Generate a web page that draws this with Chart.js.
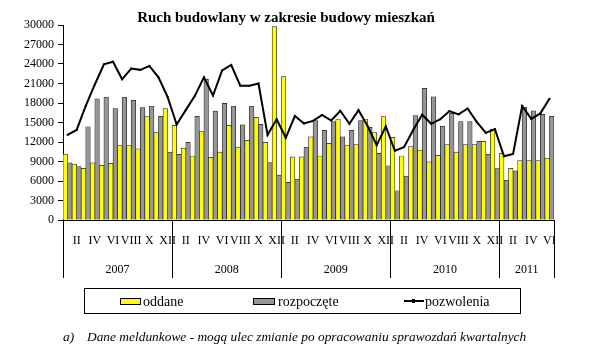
<!DOCTYPE html>
<html>
<head>
<meta charset="utf-8">
<script src="https://cdn.jsdelivr.net/npm/chart.js@4.4.1/dist/chart.umd.min.js"></script>
<style>
  html, body { margin:0; padding:0; background:#fff; }
  body { width:600px; height:356px; overflow:hidden; position:relative; font-family:"Liberation Serif","Times New Roman",serif; color:#000; }
  #c { position:absolute; left:0; top:0; }
  .abs { position:absolute; white-space:nowrap; }
  #title { left:0; width:572px; top:9px; text-align:center; font-weight:bold; font-size:15px; line-height:17px; }
  #legend { left:84px; top:288px; width:437px; height:26px; border:1px solid #000; box-sizing:border-box; }
  .sw { position:absolute; top:298px; height:7px; box-sizing:border-box; border:1px solid #000; }
  .lt { position:absolute; top:293px; font-size:14px; line-height:17px; }
  .foot { position:absolute; top:329px; font-size:13.4px; line-height:15px; font-style:italic; }
</style>
</head>
<body>
<canvas id="c" width="600" height="356"></canvas>
<div id="title" class="abs">Ruch budowlany w zakresie budowy mieszkań</div>
<div id="legend" class="abs"></div>
<div class="sw" style="left:120px;width:21px;background:#ffff00;"></div>
<div class="lt" style="left:143px;">oddane</div>
<div class="sw" style="left:253px;width:22px;background:#969696;"></div>
<div class="lt" style="left:278px;">rozpoczęte</div>
<div class="abs" style="left:404px;top:300px;width:20px;height:2px;background:#000;"></div>
<div class="abs" style="left:412px;top:299px;width:3px;height:4px;background:#000;"></div>
<div class="lt" style="left:425px;">pozwolenia</div>
<div class="foot" style="left:63px;">a)</div>
<div class="foot" style="left:87px;">Dane meldunkowe - mogą ulec zmianie po opracowaniu sprawozdań kwartalnych</div>
<script>
const years = ['2007', '2008', '2009', '2010', '2011'];
const monthNumerals = ['I','II','III','IV','V','VI','VII','VIII','IX','X','XI','XII'];

const oddane = [
  10150, 8600, 7950, 8800, 8400, 8700, 11450, 11450, 10950, 15900, 13450, 17150,
  14550, 11050, 9850, 13600, 9650, 10450, 14550, 11200, 12250, 15800, 11950, 29750,
  22050, 9700, 9700, 12800, 9850, 11800, 15500, 11450, 11600, 15500, 13450, 15900,
  12700, 9850, 11300, 10750, 8950, 9950, 11600, 10450, 11600, 11600, 12100, 13950,
  10250, 7950, 9150, 9150, 9150, 9500
];
const rozpoczete = [
  8800, 8200, 14350, 18650, 18900, 17150, 18900, 18400, 17300, 17500, 15950, 10450,
  10100, 11950, 15950, 21650, 16750, 17950, 17500, 14650, 17500, 14700, 8850, 6900,
  5800, 6300, 11200, 15300, 13800, 15150, 12800, 13800, 15300, 14250, 10250, 8350,
  4500, 6750, 16050, 20250, 18950, 14450, 16400, 15150, 15150, 12100, 10100, 8000,
  6150, 7550, 17350, 16800, 16250, 15950
];
const pozwolenia = [
  13100, 13850, 17550, 20850, 23950, 24350, 21650, 23300, 23100, 23700, 21950, 18950,
  14700, 16900, 19100, 21950, 19150, 23000, 23850, 20650, 20650, 21000, 13100, 15500,
  12650, 16000, 14850, 15250, 16150, 15300, 16800, 14800, 16900, 14450, 11500, 14400,
  10650, 11200, 13800, 16200, 14800, 15500, 16750, 16250, 17150, 15100, 13400, 14000,
  9800, 10150, 17550, 15550, 16400, 18650
];
const yTicks = [0, 3000, 6000, 9000, 12000, 15000, 18000, 21000, 24000, 27000, 30000];

const labels = oddane.map((_, i) => monthNumerals[i % 12] + ' ' + years[Math.floor(i / 12)]);

Chart.defaults.font.family = "'Liberation Serif','Times New Roman',serif";
Chart.defaults.color = '#000';

const yearPlugin = {
  id: 'yearGroups',
  afterDraw(chart) {
    const xs = chart.scales.x, ctx = chart.ctx, area = chart.chartArea;
    const n = labels.length;
    const step = xs.getPixelForValue(1) - xs.getPixelForValue(0);
    ctx.save();
    ctx.strokeStyle = '#000';
    ctx.lineWidth = 1;
    ctx.fillStyle = '#000';
    ctx.font = "12px 'Liberation Serif','Times New Roman',serif";
    ctx.textAlign = 'center';
    ctx.textBaseline = 'middle';
    let start = 0;
    years.forEach((yr, k) => {
      const cnt = Math.min(12, n - start);
      const left = xs.getPixelForValue(start) - step / 2;
      const right = xs.getPixelForValue(start + cnt - 1) + step / 2;
      const edges = k === years.length - 1 ? [left, right] : [left];
      edges.forEach(e => {
        const px = Math.round(e) + 0.5;
        ctx.beginPath();
        ctx.moveTo(px, area.bottom);
        ctx.lineTo(px, area.bottom + 58);
        ctx.stroke();
      });
      ctx.fillText(yr, (left + right) / 2, area.bottom + 50);
      start += cnt;
    });
    ctx.restore();
  }
};

new Chart(document.getElementById('c'), {
  type: 'bar',
  data: {
    labels: labels,
    datasets: [
      { type: 'line', label: 'pozwolenia', data: pozwolenia, borderColor: '#000', backgroundColor: '#000',
        borderWidth: 2, tension: 0, pointStyle: 'rect', pointRadius: 1.3, pointBackgroundColor: '#000', pointBorderWidth: 0, order: 0 },
      { label: 'oddane', data: oddane, backgroundColor: '#ffff00', borderColor: '#222', borderWidth: 0.7, order: 1 },
      { label: 'rozpoczęte', data: rozpoczete, backgroundColor: '#969696', borderColor: '#222', borderWidth: 0.7, order: 1 }
    ]
  },
  options: {
    responsive: false,
    animation: false,
    datasets: { bar: { categoryPercentage: 1.0, barPercentage: 1.0 } },
    layout: { padding: { left: 0, right: 46, top: 25, bottom: 106 } },
    plugins: { legend: { display: false }, tooltip: { enabled: false }, title: { display: false } },
    scales: {
      x: {
        grid: { display: false, drawTicks: false },
        border: { display: true, color: '#000', width: 1 },
        ticks: {
          autoSkip: false, maxRotation: 0, minRotation: 0, padding: 14,
          font: { size: 12 }, color: '#000',
          callback: function(v, i) { return (i % 2 === 1) ? monthNumerals[i % 12] : ''; }
        },
        afterFit: s => { s.height = 30; }
      },
      y: {
        min: 0, max: 30000,
        afterBuildTicks: s => { s.ticks = yTicks.map(v => ({ value: v })); },
        grid: { drawOnChartArea: false, drawTicks: true, tickLength: 5, color: '#000' },
        border: { display: true, color: '#000', width: 1 },
        ticks: { font: { size: 12 }, color: '#000', padding: 4, callback: v => String(v) },
        afterFit: s => { s.width = 63; }
      }
    }
  },
  plugins: [yearPlugin]
});
</script>
</body>
</html>
